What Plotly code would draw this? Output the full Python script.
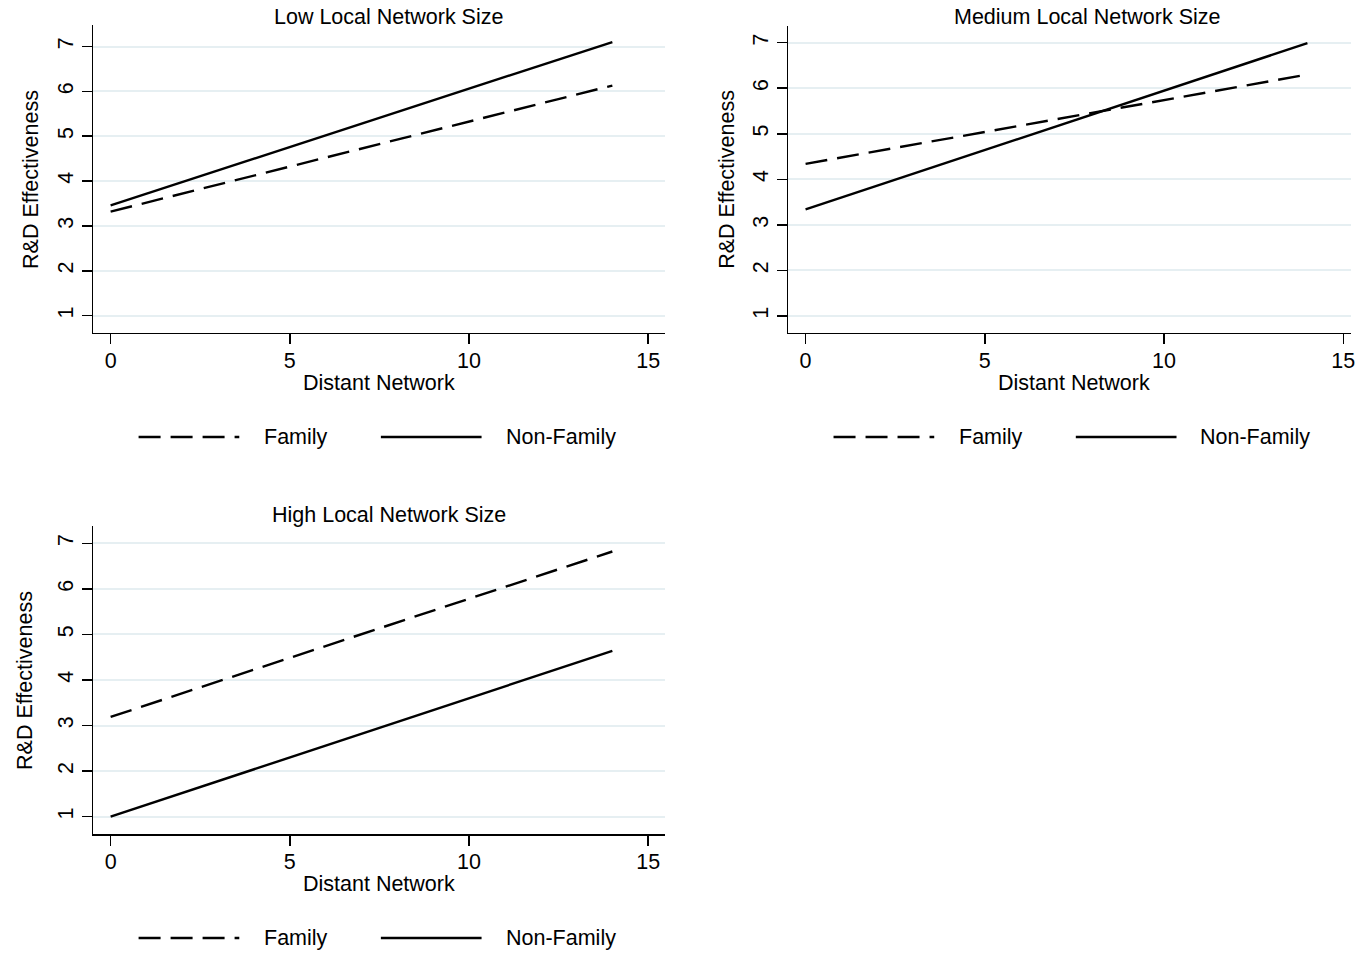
import plotly.graph_objects as go

W, H = 1355, 954

# ---- data ----
distant_network = [0, 14]
panel_titles = ["Low Local Network Size", "Medium Local Network Size", "High Local Network Size"]
low_family = [3.32, 6.13]
low_nonfamily = [3.46, 7.10]
med_family = [4.34, 6.30]
med_nonfamily = [3.34, 6.99]
high_family = [3.19, 6.82]
high_nonfamily = [1.00, 4.64]
series_names = ["Family", "Non-Family"]
x_ticks = [0, 5, 10, 15]
y_ticks = [1, 2, 3, 4, 5, 6, 7]

FONT = "Liberation Sans, Arial, Helvetica, sans-serif"
DASH = "22px,10px"


def px(x):
    return x / W


def py(y):
    return 1 - y / H


fig = go.Figure()

panels = [
    (low_family, low_nonfamily, "x", "y"),
    (med_family, med_nonfamily, "x2", "y2"),
    (high_family, high_nonfamily, "x3", "y3"),
]
for fam, nonfam, xa, ya in panels:
    fig.add_trace(go.Scatter(x=distant_network, y=fam, mode="lines", name=series_names[0],
                             line=dict(color="black", width=2.4, dash=DASH),
                             xaxis=xa, yaxis=ya, showlegend=False))
    fig.add_trace(go.Scatter(x=distant_network, y=nonfam, mode="lines", name=series_names[1],
                             line=dict(color="black", width=2.4),
                             xaxis=xa, yaxis=ya, showlegend=False))

axis_common = dict(showline=True, linecolor="black", linewidth=1.5, ticks="outside",
                   ticklen=10, tickwidth=1.5, tickcolor="black", zeroline=False,
                   tickfont=dict(family=FONT, size=21.5, color="black"))
xcommon = dict(axis_common, tickvals=x_ticks, showgrid=False, ticklabeloverflow="allow",
               ticklabelstandoff=-2)
ycommon = dict(axis_common, tickvals=y_ticks, showgrid=True, gridcolor="#e6eff2",
               gridwidth=2, tickangle=-90)

# panel geometry in reference pixels: (left, right, top, bottom), x-range, y-range
UNIT = 35.95
geo = {
    1: ((93.7, 667.0, 25.0, 332.7), [-0.48, 15.47], [0.62, 7.48]),
    2: ((790.7, W, 25.7, 332.7), [-0.48, (W - 808.0) / UNIT], [0.633, 7.373]),
    3: ((93.7, 667.0, 526.0, 834.0), [-0.48, 15.47], [0.62, 7.38]),
}
layout = {}
for i, ((l, r, t, b), xr, yr) in geo.items():
    sx = "" if i == 1 else str(i)
    layout["xaxis" + sx] = dict(xcommon, domain=[px(l), min(1.0, px(r))], range=xr,
                                anchor="y" + sx)
    layout["yaxis" + sx] = dict(ycommon, domain=[py(b), py(t)], range=yr,
                                anchor="x" + sx)

fig.update_layout(**layout)

ann = []
shapes = []
txt = dict(family=FONT, size=21.5, color="black")
for title, (cx, cy) in zip(panel_titles, [(390, 17), (1090, 17), (390, 515)]):
    ann.append(dict(text=title, x=px(cx), y=py(cy), xref="paper", yref="paper",
                    showarrow=False, font=txt, xanchor="center", yanchor="middle"))
for (cx, cy) in [(380, 383), (1077, 383), (380, 884)]:
    ann.append(dict(text="Distant Network", x=px(cx), y=py(cy), xref="paper", yref="paper",
                    showarrow=False, font=txt, xanchor="center", yanchor="middle"))
for (cx, cy) in [(31, 179), (729, 179), (25, 680)]:
    ann.append(dict(text="R&D Effectiveness", x=px(cx), y=py(cy), xref="paper", yref="paper",
                    showarrow=False, font=txt, xanchor="center", yanchor="middle", textangle=-90))
for (ox, ly) in [(0, 437), (697, 437), (0, 938)]:
    shapes.append(dict(type="line", xref="paper", yref="paper",
                       x0=px(139 + ox), x1=px(240 + ox), y0=py(ly), y1=py(ly),
                       line=dict(color="black", width=2.4, dash=DASH)))
    shapes.append(dict(type="line", xref="paper", yref="paper",
                       x0=px(382 + ox), x1=px(483 + ox), y0=py(ly), y1=py(ly),
                       line=dict(color="black", width=2.4)))
    ann.append(dict(text=series_names[0], x=px(263 + ox), y=py(ly), xref="paper", yref="paper",
                    showarrow=False, font=txt, xanchor="left", yanchor="middle"))
    ann.append(dict(text=series_names[1], x=px(505 + ox), y=py(ly), xref="paper", yref="paper",
                    showarrow=False, font=txt, xanchor="left", yanchor="middle"))

fig.update_layout(annotations=ann, shapes=shapes, width=W, height=H,
                  margin=dict(l=0, r=0, t=0, b=0), plot_bgcolor="white",
                  paper_bgcolor="white", showlegend=False, hovermode=False)

fig.write_html("out.html",
               config={"displayModeBar": False, "staticPlot": True},
               post_script="document.body.style.margin='0';"
                           "document.documentElement.style.overflow='hidden';"
                           "document.body.style.overflow='hidden';")
